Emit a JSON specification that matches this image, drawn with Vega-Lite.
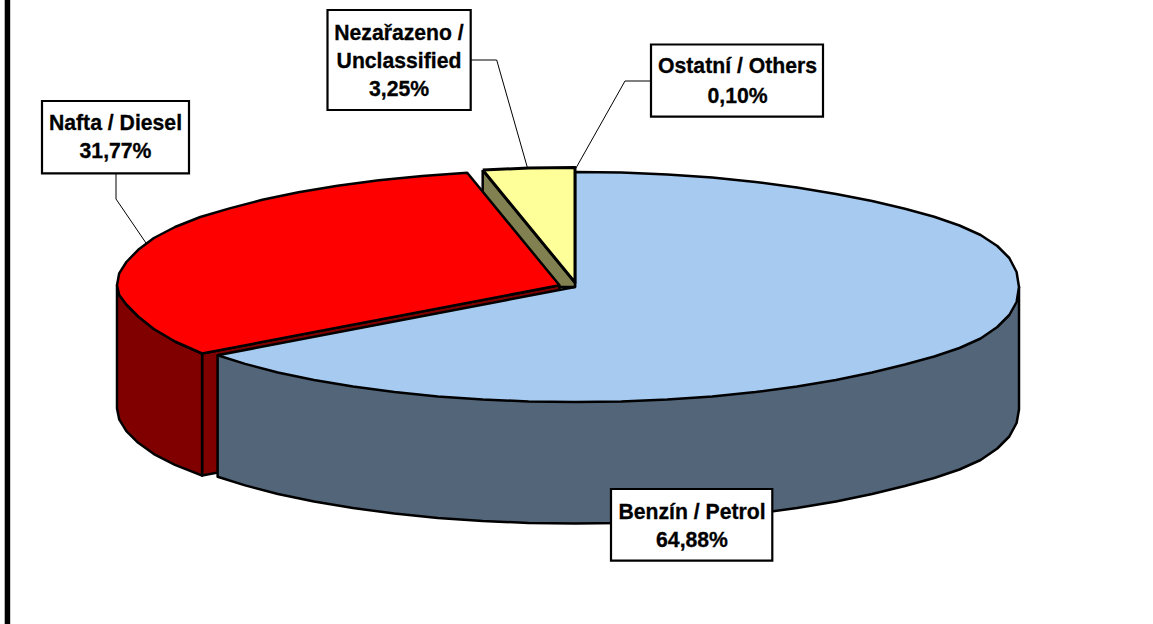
{
"$schema":"https://vega.github.io/schema/vega-lite/v6.json",
"width":1153,"height":624,"padding":0,
"autosize":{"type":"fit","contains":"padding"},
"background":"white",
"view":{"stroke":null},
"datasets":{
"frame":[{"x":4.7,"x2":10.2,"y":0,"y2":624}],
"redFace":[{"i":0,"x":202.1,"y":353.5},{"i":1,"x":559.5,"y":285.3},{"i":2,"x":559.5,"y":407},{"i":3,"x":202.1,"y":475.5},{"i":4,"x":202.1,"y":353.5}],
"redWall":[{"i":0,"x":202.1,"y":353.5},{"i":1,"x":175,"y":341.5},{"i":2,"x":153.9,"y":329},{"i":3,"x":138.2,"y":316.5},{"i":4,"x":126.4,"y":304.5},{"i":5,"x":119.2,"y":295},{"i":6,"x":117,"y":285.3},{"i":7,"x":117,"y":408.5},{"i":8,"x":119.2,"y":419.3},{"i":9,"x":126.4,"y":431.2},{"i":10,"x":138.2,"y":442.8},{"i":11,"x":153.9,"y":454.1},{"i":12,"x":175,"y":464.8},{"i":13,"x":202.1,"y":475.5},{"i":14,"x":202.1,"y":353.5}],
"blueWall":[{"i":0,"x":217.6,"y":355.2},{"i":1,"x":217.6,"y":476.7},{"i":2,"x":245.1,"y":485.4},{"i":3,"x":277.9,"y":494},{"i":4,"x":314,"y":501.5},{"i":5,"x":353,"y":508.1},{"i":6,"x":394.4,"y":513.6},{"i":7,"x":437.8,"y":517.9},{"i":8,"x":482.7,"y":521},{"i":9,"x":528.6,"y":522.9},{"i":10,"x":575,"y":523.5},{"i":11,"x":621.4,"y":522.9},{"i":12,"x":667.3,"y":521},{"i":13,"x":712.2,"y":517.9},{"i":14,"x":755.6,"y":513.6},{"i":15,"x":797,"y":508.1},{"i":16,"x":836,"y":501.5},{"i":17,"x":872.1,"y":494},{"i":18,"x":904.9,"y":486},{"i":19,"x":934.2,"y":478},{"i":20,"x":959.5,"y":469.5},{"i":21,"x":980.6,"y":460},{"i":22,"x":997.3,"y":448.5},{"i":23,"x":1009.3,"y":436.5},{"i":24,"x":1016.6,"y":423},{"i":25,"x":1019,"y":409.5},{"i":26,"x":1019,"y":287},{"i":27,"x":217.6,"y":355.2}],
"blueTop":[{"i":0,"x":575,"y":172},{"i":1,"x":621.4,"y":172.6},{"i":2,"x":667.3,"y":174.5},{"i":3,"x":712.2,"y":177.6},{"i":4,"x":755.6,"y":181.9},{"i":5,"x":797,"y":187.4},{"i":6,"x":836,"y":194},{"i":7,"x":872.1,"y":201},{"i":8,"x":904.9,"y":208.8},{"i":9,"x":934.2,"y":216.8},{"i":10,"x":959.5,"y":225.5},{"i":11,"x":980.6,"y":235},{"i":12,"x":997.3,"y":246},{"i":13,"x":1009.3,"y":258},{"i":14,"x":1016.6,"y":272},{"i":15,"x":1019,"y":287},{"i":16,"x":1016.6,"y":302},{"i":17,"x":1009.3,"y":315},{"i":18,"x":997.3,"y":327},{"i":19,"x":980.6,"y":338.5},{"i":20,"x":959.5,"y":348},{"i":21,"x":934.2,"y":356.5},{"i":22,"x":904.9,"y":364.5},{"i":23,"x":872.1,"y":372.5},{"i":24,"x":836,"y":380},{"i":25,"x":797,"y":386.6},{"i":26,"x":755.6,"y":392.1},{"i":27,"x":712.2,"y":396.4},{"i":28,"x":667.3,"y":399.5},{"i":29,"x":621.4,"y":401.4},{"i":30,"x":575,"y":402},{"i":31,"x":528.6,"y":401.4},{"i":32,"x":482.7,"y":399.5},{"i":33,"x":437.8,"y":396.4},{"i":34,"x":394.4,"y":392.1},{"i":35,"x":353,"y":386.6},{"i":36,"x":314,"y":380},{"i":37,"x":277.9,"y":372.5},{"i":38,"x":245.1,"y":363.9},{"i":39,"x":217.6,"y":355.2},{"i":40,"x":575,"y":287},{"i":41,"x":575,"y":172}],
"olive":[{"i":0,"x":482.7,"y":170},{"i":1,"x":575,"y":282.5},{"i":2,"x":575,"y":287},{"i":3,"x":559.5,"y":287},{"i":4,"x":482.7,"y":205},{"i":5,"x":482.7,"y":170}],
"yellow":[{"i":0,"x":482.7,"y":170},{"i":1,"x":528.6,"y":168.1},{"i":2,"x":575,"y":167.5},{"i":3,"x":575,"y":282.5},{"i":4,"x":482.7,"y":170}],
"redTop":[{"i":0,"x":202.1,"y":353.5},{"i":1,"x":175,"y":341.5},{"i":2,"x":153.9,"y":329},{"i":3,"x":138.2,"y":316.5},{"i":4,"x":126.4,"y":304.5},{"i":5,"x":119.2,"y":295},{"i":6,"x":117,"y":285.3},{"i":7,"x":119.2,"y":273.3},{"i":8,"x":126.4,"y":262},{"i":9,"x":138.2,"y":249.8},{"i":10,"x":153.9,"y":238},{"i":11,"x":175,"y":227},{"i":12,"x":200.3,"y":217},{"i":13,"x":229.6,"y":208.4},{"i":14,"x":262.4,"y":199.8},{"i":15,"x":298.5,"y":192.3},{"i":16,"x":337.5,"y":185.7},{"i":17,"x":378.9,"y":180.2},{"i":18,"x":422.3,"y":175.9},{"i":19,"x":467.2,"y":172.8},{"i":20,"x":559.5,"y":285.3},{"i":21,"x":202.1,"y":353.5}],
"leaders":[{"k":"n","i":0,"x":471,"y":60},{"k":"n","i":1,"x":496.7,"y":60},{"k":"n","i":2,"x":527.5,"y":168},{"k":"o","i":0,"x":651,"y":81},{"k":"o","i":1,"x":625,"y":81},{"k":"o","i":2,"x":576,"y":168},{"k":"d","i":0,"x":116,"y":173},{"k":"d","i":1,"x":116,"y":199},{"k":"d","i":2,"x":146,"y":243}],
"boxes":[{"x":327.5,"x2":470.7,"y":10,"y2":110},{"x":651,"x2":823,"y":44.5,"y2":116.7},{"x":42,"x2":189,"y":101,"y2":173.3},{"x":611,"x2":772.3,"y":489,"y2":560.7}],
"labels":[{"x":399,"y":33.5,"t":"Nezařazeno /"},{"x":399,"y":61.5,"t":"Unclassified"},{"x":399,"y":89.5,"t":"3,25%"},{"x":737.5,"y":67,"t":"Ostatní / Others"},{"x":737.5,"y":96.5,"t":"0,10%"},{"x":115.5,"y":123.5,"t":"Nafta / Diesel"},{"x":115.5,"y":151.5,"t":"31,77%"},{"x":692,"y":512.5,"t":"Benzín / Petrol"},{"x":692,"y":540.5,"t":"64,88%"}]
},
"encoding":{
"x":{"field":"x","type":"quantitative","scale":{"domain":[0,1153],"nice":false,"zero":false},"axis":null},
"y":{"field":"y","type":"quantitative","scale":{"domain":[624,0],"nice":false,"zero":false},"axis":null}
},
"layer":[
{"data":{"name":"frame"},"mark":{"type":"rect","fill":"#000","stroke":null},"encoding":{"x2":{"field":"x2"},"y2":{"field":"y2"}}},
{"data":{"name":"redFace"},"mark":{"type":"line","filled":true,"fill":"#800000","stroke":"#000","strokeWidth":2.5,"strokeJoin":"round"},"encoding":{"order":{"field":"i"}}},
{"data":{"name":"redWall"},"mark":{"type":"line","filled":true,"fill":"#800000","stroke":"#000","strokeWidth":2.5,"strokeJoin":"round"},"encoding":{"order":{"field":"i"}}},
{"data":{"name":"blueWall"},"mark":{"type":"line","filled":true,"fill":"#536579","stroke":"#000","strokeWidth":2.5,"strokeJoin":"round"},"encoding":{"order":{"field":"i"}}},
{"data":{"name":"blueTop"},"mark":{"type":"line","filled":true,"fill":"#A6CAF0","stroke":"#000","strokeWidth":2.5,"strokeJoin":"round"},"encoding":{"order":{"field":"i"}}},
{"data":{"name":"olive"},"mark":{"type":"line","filled":true,"fill":"#808050","stroke":"#000","strokeWidth":2.5,"strokeJoin":"round"},"encoding":{"order":{"field":"i"}}},
{"data":{"name":"yellow"},"mark":{"type":"line","filled":true,"fill":"#FFFF99","stroke":"#000","strokeWidth":3,"strokeJoin":"round"},"encoding":{"order":{"field":"i"}}},
{"data":{"name":"redTop"},"mark":{"type":"line","filled":true,"fill":"#FF0000","stroke":"#000","strokeWidth":2.5,"strokeJoin":"round"},"encoding":{"order":{"field":"i"}}},
{"data":{"name":"leaders"},"mark":{"type":"line","stroke":"#000","strokeWidth":1},"encoding":{"detail":{"field":"k"},"order":{"field":"i"}}},
{"data":{"name":"boxes"},"mark":{"type":"rect","fill":"#fff","stroke":"#000","strokeWidth":2.2},"encoding":{"x2":{"field":"x2"},"y2":{"field":"y2"}}},
{"data":{"name":"labels"},"mark":{"type":"text","font":"Liberation Sans","fontWeight":"bold","fontSize":21.2,"fill":"#000","stroke":"#000","strokeWidth":0.3,"align":"center","baseline":"middle"},"encoding":{"text":{"field":"t"}}}
]
}
